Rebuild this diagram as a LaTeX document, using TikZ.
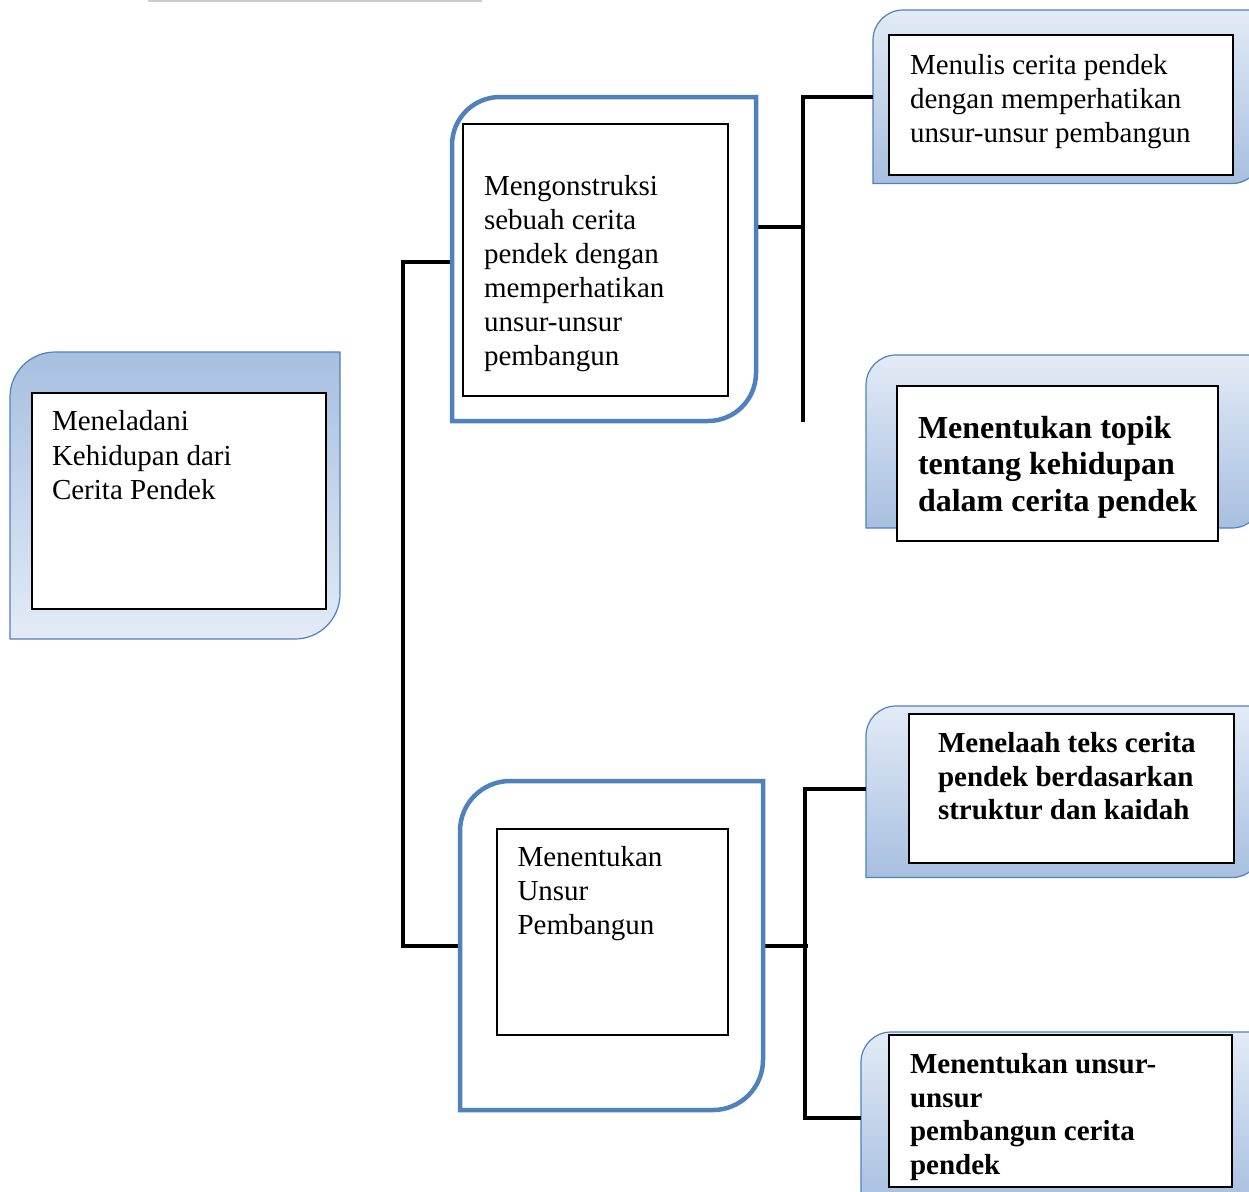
\documentclass[tikz,border=0pt]{standalone}
\usepackage{fontspec}
\setmainfont{Liberation Serif}
\definecolor{frameblue}{RGB}{79,129,189}
\definecolor{gdark}{RGB}{167,191,224}
\definecolor{glight}{RGB}{227,235,246}
\newcommand{\cornershape}[3]{%
  \path[#1] (#2.south west) -- ([yshift=-#3]#2.north west)
    arc[start angle=180,end angle=90,radius=#3] -- (#2.north east)
    -- ([yshift=#3]#2.south east) arc[start angle=0,end angle=-90,radius=#3] -- cycle;}
\begin{document}
\begin{tikzpicture}[x=1pt,y=-1pt,
  conn/.style={line width=4pt, draw=black},
  frame/.style={line width=4.5pt, draw=frameblue},
  gup/.style={draw=frameblue, line width=1.2pt, top color=gdark, bottom color=glight},
  gdown/.style={draw=frameblue, line width=1.2pt, top color=glight, bottom color=gdark},
  area/.style={inner sep=0pt, outer sep=0pt, anchor=north west},
  ibox/.style={draw=black, line width=2pt, fill=white, inner sep=0pt, outer sep=0pt, anchor=north west},
  iboxthin/.style={draw=black, line width=1.5pt, fill=white, inner sep=0pt, outer sep=0pt, anchor=north west},
  txt/.style={anchor=base west, inner sep=0pt, outer sep=0pt},
]
\useasboundingbox (0,0) rectangle (1249,1191);
\clip (0,0) rectangle (1249,1191);
\fill[white] (0,0) rectangle (1249,1191);

% faint line at the top
\draw[gray!40, line width=2pt] (148,0.8) -- (482,0.8);

% outer shape areas
\node[area, minimum width=330pt, minimum height=287pt] (o0) at (10,352) {};
\node[area, minimum width=304pt, minimum height=324pt] (mt) at (452,97) {};
\node[area, minimum width=303pt, minimum height=329pt] (mb) at (460,781) {};
\node[area, minimum width=389pt, minimum height=173.5pt] (r1) at (873,10) {};
\node[area, minimum width=396pt, minimum height=173pt] (r2) at (866,355) {};
\node[area, minimum width=396pt, minimum height=171.5pt] (r3) at (866,706) {};
\node[area, minimum width=401pt, minimum height=172pt] (r4) at (861,1032) {};

% gradient shapes
\cornershape{gup}{o0}{45pt}
\cornershape{gdown}{r1}{30pt}
\cornershape{gdown}{r2}{30pt}
\cornershape{gdown}{r3}{30pt}
\cornershape{gdown}{r4}{30pt}

% connectors
\coordinate (lt) at (403,0);
\draw[conn] ([yshift=-2.5pt]mt.west) -| (lt |- mb.west) -- (mb.west);
\coordinate (busa) at (803,422);
\draw[conn] ([yshift=32pt]mt.east) -- ++(47,0);
\draw[conn] (r1.west) -| (busa);
\coordinate (busb) at (805,0);
\draw[conn] (mb.east) -- ++(45,0);
\draw[conn] ([yshift=3pt]r3.west) -| (busb |- r4.west) -- (r4.west);

% blue frames
\cornershape{frame}{mt}{48pt}
\cornershape{frame}{mb}{50pt}

% inner boxes
\node[ibox, minimum width=294pt, minimum height=216pt] (b0) at (32,393) {};
\node[iboxthin, minimum width=265pt, minimum height=272pt] (bt) at (463,124) {};
\node[iboxthin, minimum width=231pt, minimum height=206pt] (bb) at (497,829) {};
\node[ibox, minimum width=344pt, minimum height=140pt] (b1) at (889,35) {};
\node[ibox, minimum width=321pt, minimum height=155pt] (b2) at (897,386) {};
\node[ibox, minimum width=325.5pt, minimum height=149pt] (b3) at (908.5,714) {};
\node[ibox, minimum width=343pt, minimum height=152pt] (b4) at (889,1035) {};

% texts
\node[txt] (t0) at (52,430.7) {\parbox[t]{400pt}{\fontsize{29}{34.3}\selectfont
  Meneladani\\Kehidupan dari\\Cerita Pendek}};
\node[txt] (tt) at (484,195.7) {\parbox[t]{400pt}{\fontsize{29}{33.9}\selectfont
  Mengonstruksi\\sebuah cerita\\pendek dengan\\memperhatikan\\unsur-unsur\\pembangun}};
\node[txt] (tb) at (517.5,866) {\parbox[t]{400pt}{\fontsize{29}{34.2}\selectfont
  Menentukan\\Unsur\\Pembangun}};
\node[txt] (t1) at (910,74.5) {\parbox[t]{400pt}{\fontsize{29}{33.8}\selectfont
  Menulis cerita pendek\\dengan memperhatikan\\unsur-unsur pembangun}};
\node[txt] (t2) at (918,438) {\parbox[t]{400pt}{\bfseries\fontsize{32}{36.6}\selectfont
  Menentukan topik\\tentang kehidupan\\dalam cerita pendek}};
\node[txt] (t3) at (938,752.7) {\parbox[t]{400pt}{\bfseries\fontsize{29}{33.3}\selectfont
  Menelaah teks cerita\\pendek berdasarkan\\struktur dan kaidah}};
\node[txt] (t4) at (910,1073.8) {\parbox[t]{400pt}{\bfseries\fontsize{29}{33.4}\selectfont
  Menentukan unsur-\\unsur\\pembangun cerita\\pendek}};
\end{tikzpicture}
\end{document}
